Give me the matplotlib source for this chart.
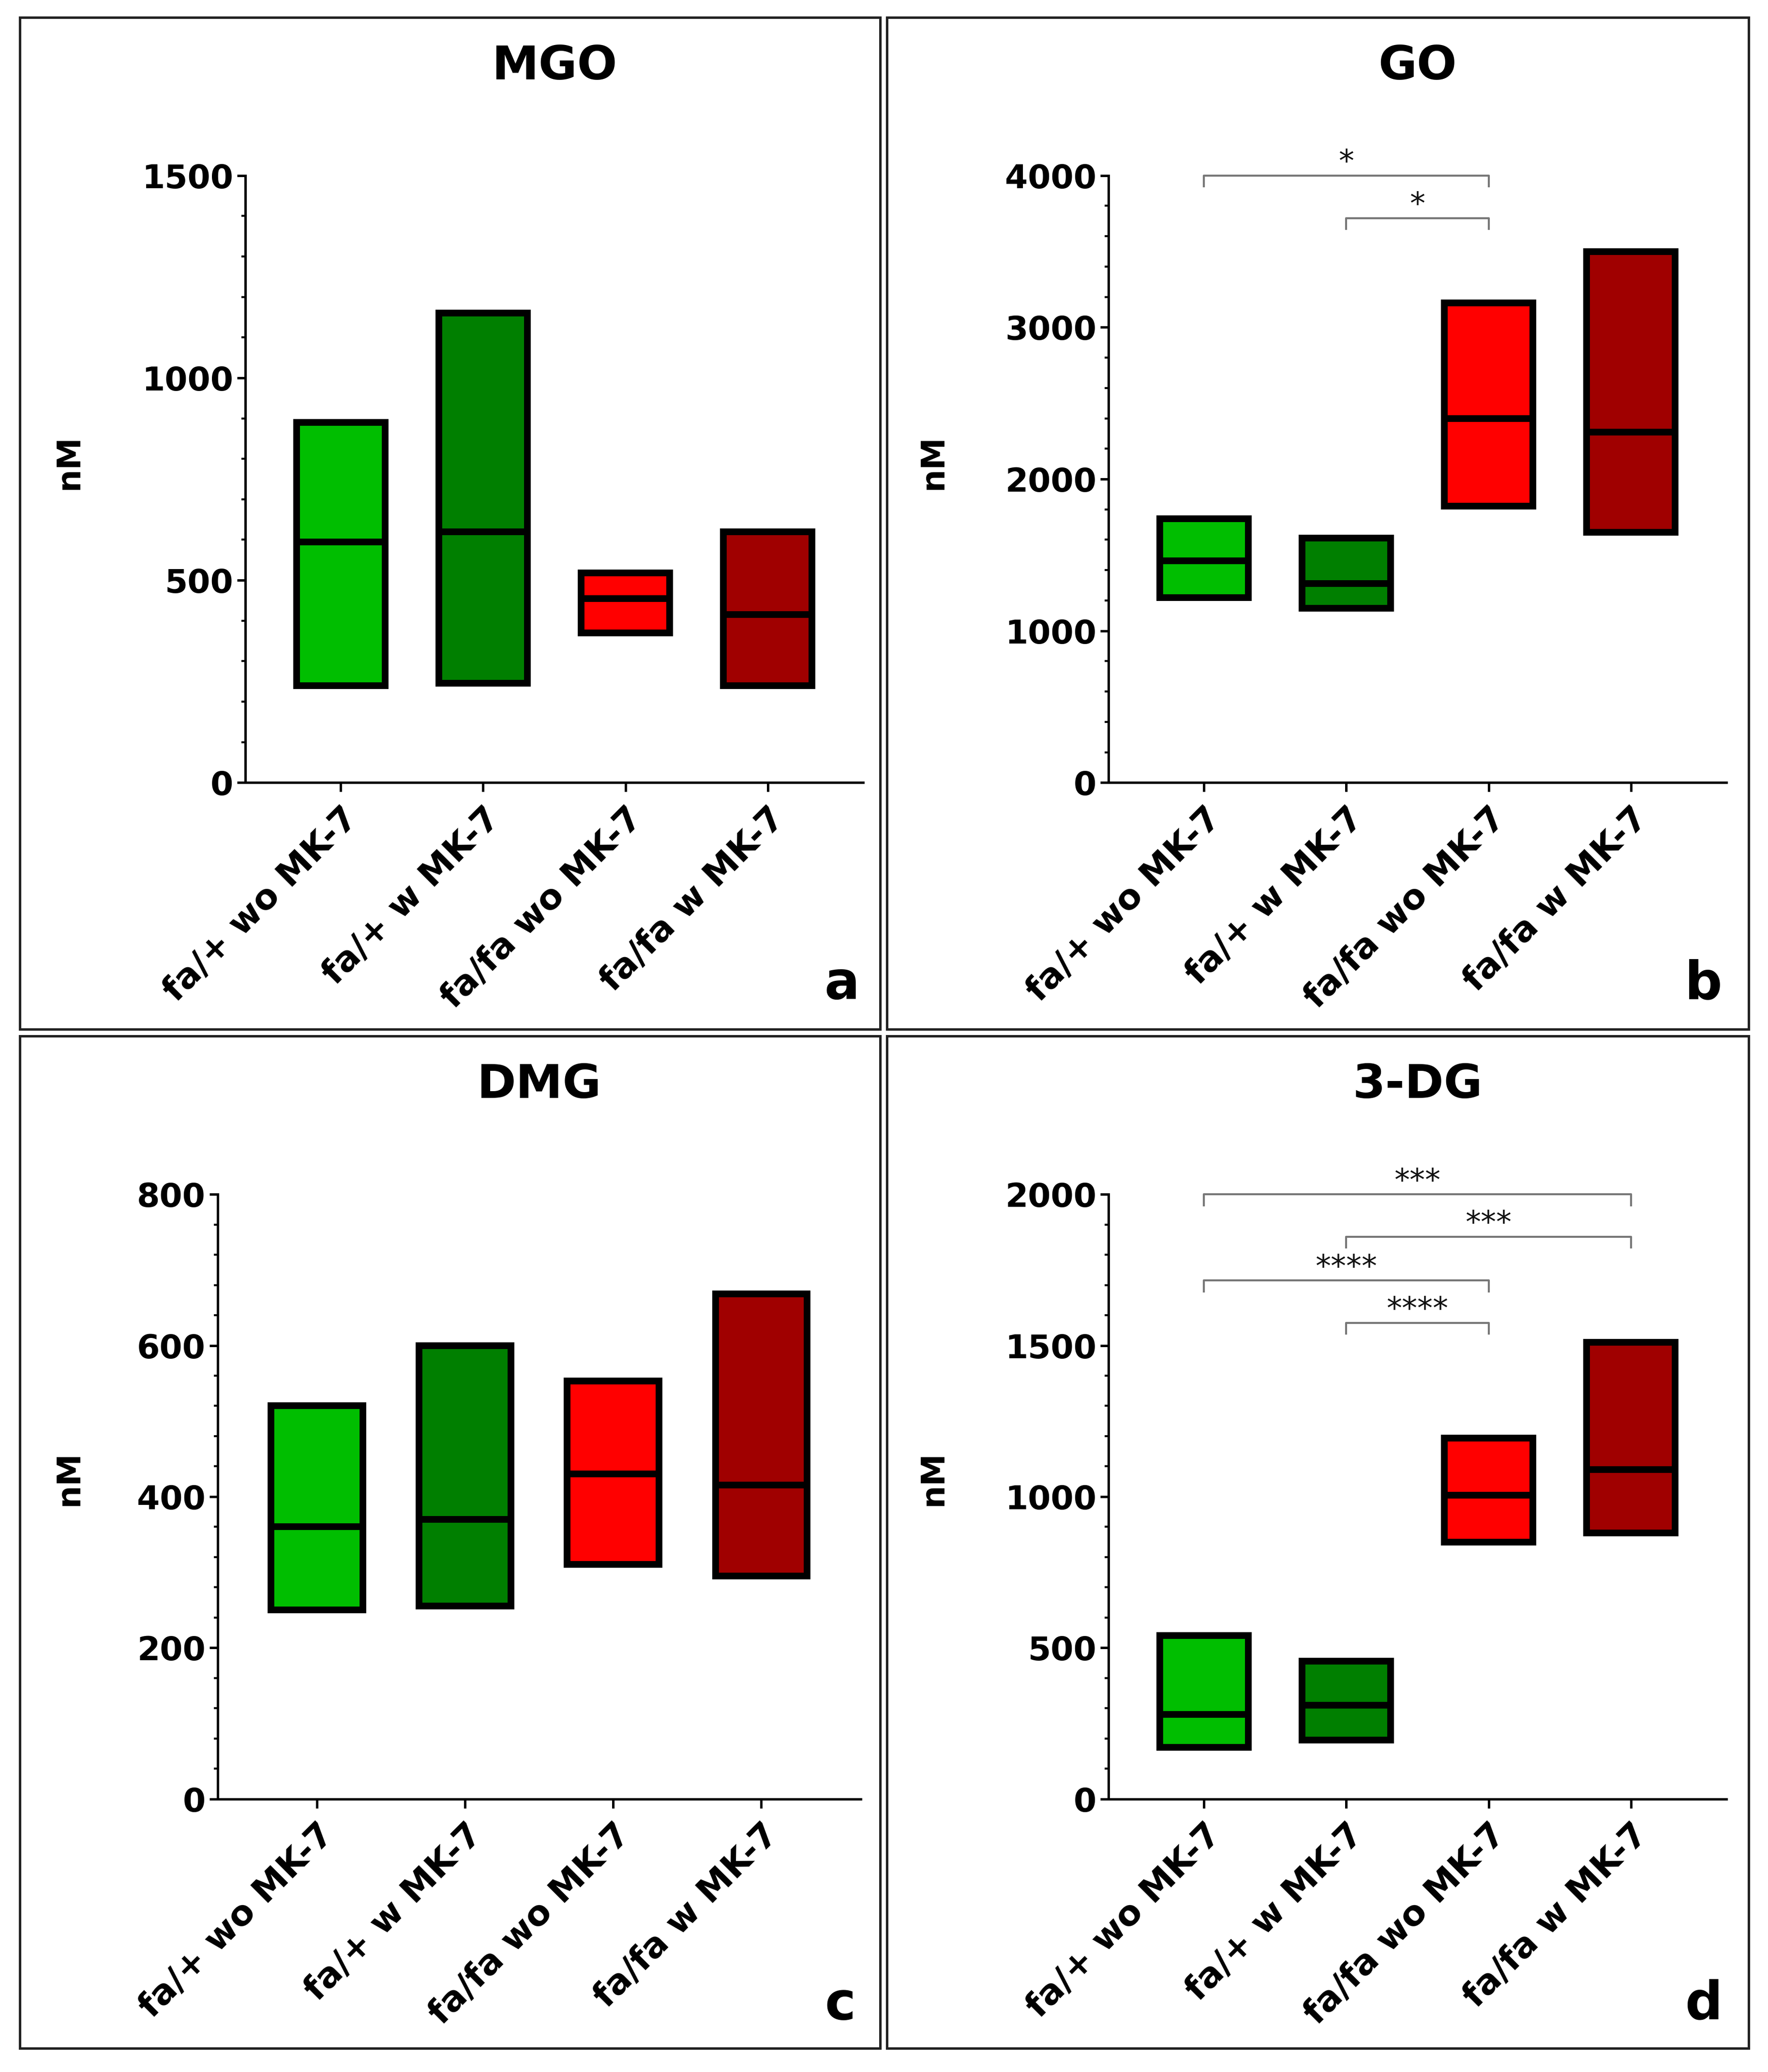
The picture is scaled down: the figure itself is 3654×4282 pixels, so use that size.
import matplotlib
matplotlib.use("Agg")
import matplotlib.pyplot as plt
from matplotlib.patches import Rectangle
from matplotlib.ticker import MultipleLocator

plt.rcParams['font.family'] = ['DejaVu Sans']

categories = ["fa/+ wo MK-7", "fa/+ w MK-7", "fa/fa wo MK-7", "fa/fa w MK-7"]
colors = ["#00BE00", "#007F00", "#FF0000", "#A00000"]

# min, median, max per group (nM)
mgo_low = [240, 245, 370, 240]
mgo_med = [595, 620, 455, 415]
mgo_high = [890, 1160, 518, 620]

go_low = [1220, 1150, 1820, 1650]
go_med = [1460, 1310, 2400, 2310]
go_high = [1740, 1610, 3160, 3500]

dmg_low = [250, 255, 310, 295]
dmg_med = [360, 370, 430, 415]
dmg_high = [520, 600, 553, 668]

dg_low = [170, 195, 850, 880]
dg_med = [280, 310, 1005, 1090]
dg_high = [540, 455, 1193, 1510]

# significance brackets: (group i, group j, height, label)
go_sig = [(0, 2, 4000, "*"), (1, 2, 3720, "*")]
dg_sig = [(0, 3, 2000, "***"), (1, 3, 1860, "***"), (0, 2, 1715, "****"), (1, 2, 1575, "****")]

panels = [
    dict(title="MGO", low=mgo_low, med=mgo_med, high=mgo_high, ymax=1500, major=500, minor=100,
         sig=[], letter="a", pos=[0.1388, 0.6223, 0.3492, 0.2930], border=[0.0112, 0.5032, 0.4866, 0.4885],
         title_y=0.968, letter_xy=(0.486, 0.518), ylab_xy=(0.039, 0.777)),
    dict(title="GO", low=go_low, med=go_med, high=go_high, ymax=4000, major=1000, minor=200,
         sig=go_sig, letter="b", pos=[0.6269, 0.6223, 0.3492, 0.2930], border=[0.5015, 0.5032, 0.4873, 0.4885],
         title_y=0.968, letter_xy=(0.974, 0.518), ylab_xy=(0.5276, 0.777)),
    dict(title="DMG", low=dmg_low, med=dmg_med, high=dmg_high, ymax=800, major=200, minor=40,
         sig=[], letter="c", pos=[0.1231, 0.1318, 0.3635, 0.2918], border=[0.0112, 0.0115, 0.4866, 0.4885],
         title_y=0.4764, letter_xy=(0.484, 0.0255), ylab_xy=(0.039, 0.2866)),
    dict(title="3-DG", low=dg_low, med=dg_med, high=dg_high, ymax=2000, major=500, minor=100,
         sig=dg_sig, letter="d", pos=[0.6269, 0.1318, 0.3492, 0.2918], border=[0.5015, 0.0115, 0.4873, 0.4885],
         title_y=0.4764, letter_xy=(0.974, 0.0255), ylab_xy=(0.5276, 0.2866)),
]

fig = plt.figure(figsize=(36.55, 42.82), dpi=100)

box_w = 0.62
edge_lw = 10

for p in panels:
    ax = fig.add_axes(p["pos"])
    xs = list(range(len(categories)))
    heights = [h - l for h, l in zip(p["high"], p["low"])]
    ax.bar(xs, heights, bottom=p["low"], width=box_w, color=colors,
           edgecolor="black", linewidth=edge_lw, zorder=3)
    for x, m in zip(xs, p["med"]):
        ax.hlines(m, x - box_w / 2, x + box_w / 2, colors="black", linewidth=edge_lw, zorder=4)

    ax.set_xlim(-0.67, 3.67)
    ax.set_ylim(0, p["ymax"])
    ax.yaxis.set_major_locator(MultipleLocator(p["major"]))
    ax.yaxis.set_minor_locator(MultipleLocator(p["minor"]))
    ax.set_xticks(xs)
    ax.set_xticklabels(categories, rotation=45, ha="right", va="top",
                       rotation_mode="anchor", fontsize=52, fontweight="bold")
    for lab in ax.get_yticklabels():
        lab.set_fontsize(49)
        lab.set_fontweight("bold")

    for s in ["top", "right"]:
        ax.spines[s].set_visible(False)
    for s in ["left", "bottom"]:
        ax.spines[s].set_linewidth(3.6)
    ax.tick_params(axis="y", which="major", length=12, width=3.6, pad=6)
    ax.tick_params(axis="y", which="minor", length=6, width=3)
    ax.tick_params(axis="x", which="major", length=14, width=3.6, pad=14)

    ymax = p["ymax"]
    drop = ymax * 0.018
    for (i, j, h, lab) in p["sig"]:
        ax.plot([i, i, j, j], [h - drop, h, h, h - drop], color="#777777", linewidth=3,
                clip_on=False, zorder=5)
        ax.annotate(lab, xy=((i + j) / 2, h), xytext=(0, 6), textcoords="offset points",
                    ha="center", va="baseline", fontsize=46, color="#111111",
                    annotation_clip=False)

    cx = p["pos"][0] + p["pos"][2] / 2
    fig.text(cx, p["title_y"], p["title"], ha="center", va="center",
             fontsize=70, fontweight="bold")
    fig.text(p["ylab_xy"][0], p["ylab_xy"][1], "nM", rotation=90, ha="center", va="center",
             fontsize=48, fontweight="bold")
    fig.text(p["letter_xy"][0], p["letter_xy"][1], p["letter"], ha="right", va="baseline",
             fontsize=78, fontweight="bold")
    b = p["border"]
    fig.add_artist(Rectangle((b[0], b[1]), b[2], b[3], transform=fig.transFigure,
                             fill=False, edgecolor="#222222", linewidth=3.6))

fig.savefig("out.png", dpi=100, facecolor="white")
